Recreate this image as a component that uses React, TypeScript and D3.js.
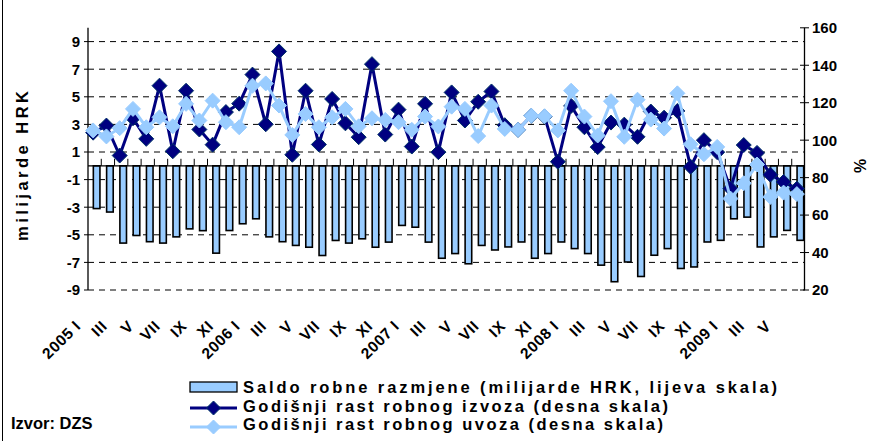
import React from 'react';
import * as d3 from 'd3';

// Saldo robne razmjene, milijarde HRK (lijeva skala), I.2005 - VI.2009
const saldo = [
  -3.1, -3.35, -5.6, -5.05, -5.5, -5.6, -5.15, -4.57, -4.7, -6.33, -4.69, -4.2,
  -3.84, -5.15, -5.5, -5.77, -5.9, -6.5, -5.41, -5.6, -5.29, -5.9, -5.53, -4.32,
  -4.45, -5.53, -6.7, -6.36, -7.1, -5.77, -6.1, -5.88, -5.52, -6.7, -6.36, -5.52,
  -6.0, -6.36, -7.2, -8.4, -6.97, -8.02, -6.48, -6.0, -7.44, -7.33, -5.52, -5.4,
  -3.84, -3.72, -5.88, -5.15, -4.68, -5.4,
];

// Godišnji rast robnog izvoza, % (desna skala)
const izvoz = [
  104, 107.8, 91.8, 111.7, 100.7, 129.1, 94.1, 126.4, 105.7, 97.6, 115, 119.5,
  135, 108.5, 147.4, 92.2, 126.4, 97.7, 122, 109, 101.6, 140.6, 103, 116.3,
  96.6, 119.4, 93.6, 125.5, 110.5, 120.5, 126, 108, 105.5, 113, 112.6, 88.5,
  118.3, 106.9, 96.3, 109.4, 108.3, 101.8, 115.3, 112, 115.6, 85.8, 100, 93.6,
  74.2, 97.4, 93.2, 81.6, 77.7, 74.1,
];

// Godišnji rast robnog uvoza, % (desna skala)
const uvoz = [
  105.2, 102, 106.4, 116.7, 106.9, 112.2, 107.4, 119.4, 110.5, 121.1, 109.6, 106.9,
  129.1, 130.3, 118.5, 102.8, 114, 106.9, 112.2, 116.7, 107.4, 111.7, 110.8, 109.6,
  105.5, 112.6, 107.3, 117.9, 116.7, 102.2, 118.5, 106, 105.5, 113.1, 112.8, 105.2,
  126.4, 112.6, 102.5, 120.8, 101.8, 121.6, 111, 106.2, 125, 97.8, 92.5, 96.4,
  68.8, 77, 87, 69.7, 72, 71.2,
];

const years = ['2005', '2006', '2007', '2008', '2009'];
const months = ['I', 'II', 'III', 'IV', 'V', 'VI', 'VII', 'VIII', 'IX', 'X', 'XI', 'XII'];
const leftTicks = [9, 7, 5, 3, 1, -1, -3, -5, -7, -9];
const rightTicks = [160, 140, 120, 100, 80, 60, 40, 20];

const legendLabels = [
  'Saldo robne razmjene (milijarde HRK,  lijeva skala)',
  'Godišnji rast robnog izvoza (desna skala)',
  'Godišnji rast robnog uvoza (desna skala)',
];

const W = 872;
const H = 441;
const left = 88;
const right = 805;
const top = 27.8;
const bottom = 290;

const DARK = '#000080';
const LIGHT = '#99CCFF';
const FONT = '"Liberation Sans", Arial, sans-serif';

const diamond = (cx: number, cy: number, r: number) =>
  `M${cx},${cy - r}L${cx + r},${cy}L${cx},${cy + r}L${cx - r},${cy}Z`;

export default function App() {
  const idx = d3.range(saldo.length);
  const x = d3.scaleBand<number>().domain(idx).range([left, right]).padding(0);
  const bw = x.bandwidth();
  const yL = d3.scaleLinear().domain([-9, 10]).range([bottom, top]);
  const yR = d3.scaleLinear().domain([20, 160]).range([bottom, top]);
  const barW = 6.6;
  const barOff = 2;
  const lineOff = -1.5;
  const cx = (i: number) => (x(i) as number) + bw / 2;

  const line = d3
    .line<number>()
    .x((_, i) => cx(i) + lineOff)
    .y((d) => yR(d));

  const y0 = yL(0);

  // every second month is labelled; January carries the year
  const catLabels = idx
    .filter((i) => i % 2 === 0)
    .map((i) => {
      const m = months[i % 12];
      const yr = years[Math.floor(i / 12)];
      return { i, text: i % 12 === 0 ? `${yr}\u00a0${m}` : m };
    });

  return (
    <svg width={W} height={H} style={{ display: 'block', position: 'absolute', left: 0, top: 0, background: '#fff' }}
      fontFamily={FONT} fontWeight="bold">
      <line x1={2.5} x2={2.5} y1={0} y2={H} stroke="#000" strokeWidth={1} />

      {/* gridlines */}
      {leftTicks.map((t) => (
        <line key={t} x1={left} x2={right} y1={yL(t)} y2={yL(t)} stroke="#000" strokeWidth={1}
          strokeDasharray="6,5" />
      ))}

      {/* bars */}
      {saldo.map((v, i) => (
        <rect key={i} x={cx(i) + barOff - barW / 2} y={y0} width={barW} height={yL(v) - y0}
          fill={LIGHT} stroke="#000" strokeWidth={1.6} />
      ))}

      {/* category axis at zero */}
      <line x1={left} x2={right} y1={y0} y2={y0} stroke="#000" strokeWidth={1.3} />
      {idx.slice(1).map((i) => (
        <line key={i} x1={x(i)} x2={x(i)} y1={y0} y2={y0 - 7} stroke="#000" strokeWidth={1} />
      ))}

      {/* left axis */}
      <line x1={left} x2={left} y1={top} y2={bottom} stroke="#000" strokeWidth={1.3} />
      {leftTicks.map((t) => (
        <g key={t}>
          <line x1={left - 4} x2={left} y1={yL(t)} y2={yL(t)} stroke="#000" />
          <text x={80} y={yL(t)} dy="0.36em" textAnchor="end" fontSize={15}>{t}</text>
        </g>
      ))}

      {/* right axis */}
      <line x1={804.5} x2={804.5} y1={top} y2={bottom} stroke="#000" strokeWidth={1.3} />
      {rightTicks.map((t) => (
        <g key={t}>
          <line x1={800} x2={809} y1={yR(t)} y2={yR(t)} stroke="#000" />
          <text x={812} y={yR(t)} dy="0.36em" textAnchor="start" fontSize={15}>{t}</text>
        </g>
      ))}

      {/* lines */}
      <path d={line(izvoz) ?? ''} fill="none" stroke={DARK} strokeWidth={3} />
      {izvoz.map((v, i) => (
        <path key={i} d={diamond(cx(i) + lineOff, yR(v), 7.5)} fill={DARK} stroke="#003366" strokeWidth={1} />
      ))}
      <path d={line(uvoz) ?? ''} fill="none" stroke={LIGHT} strokeWidth={3} />
      {uvoz.map((v, i) => (
        <path key={i} d={diamond(cx(i) + lineOff, yR(v), 7.5)} fill={LIGHT} stroke={LIGHT} strokeWidth={1} />
      ))}

      {/* axis titles */}
      <text transform="translate(28,166) rotate(-90)" textAnchor="middle" fontSize={16.5}
        textLength={150} lengthAdjust="spacing">milijarde HRK</text>
      <text transform="translate(866,166) rotate(-90)" textAnchor="middle" fontSize={16}>%</text>

      {/* category labels */}
      {catLabels.map((d) => (
        <text key={d.i} transform={`translate(${cx(d.i) - 13},327) rotate(-45)`} textAnchor="end"
          fontSize={15.5} letterSpacing={0.6}>
          {d.text}
        </text>
      ))}

      {/* legend */}
      <rect x={190} y={382} width={47} height={10} fill={LIGHT} stroke="#000" strokeWidth={1.3} />
      <text x={243} y={393} fontSize={16.5} textLength={534} lengthAdjust="spacing">{legendLabels[0]}</text>
      <line x1={190} x2={237} y1={408} y2={408} stroke={DARK} strokeWidth={3} />
      <path d={diamond(213.5, 408, 7)} fill={DARK} stroke="#003366" />
      <text x={243} y={412} fontSize={16.5} textLength={425} lengthAdjust="spacing">{legendLabels[1]}</text>
      <line x1={190} x2={237} y1={427} y2={427} stroke={LIGHT} strokeWidth={3} />
      <path d={diamond(213.5, 427, 7)} fill={LIGHT} stroke={LIGHT} />
      <text x={243} y={430} fontSize={16.5} textLength={420} lengthAdjust="spacing">{legendLabels[2]}</text>

      <text x={11} y={429} fontSize={16.5}>Izvor: DZS</text>
    </svg>
  );
}
